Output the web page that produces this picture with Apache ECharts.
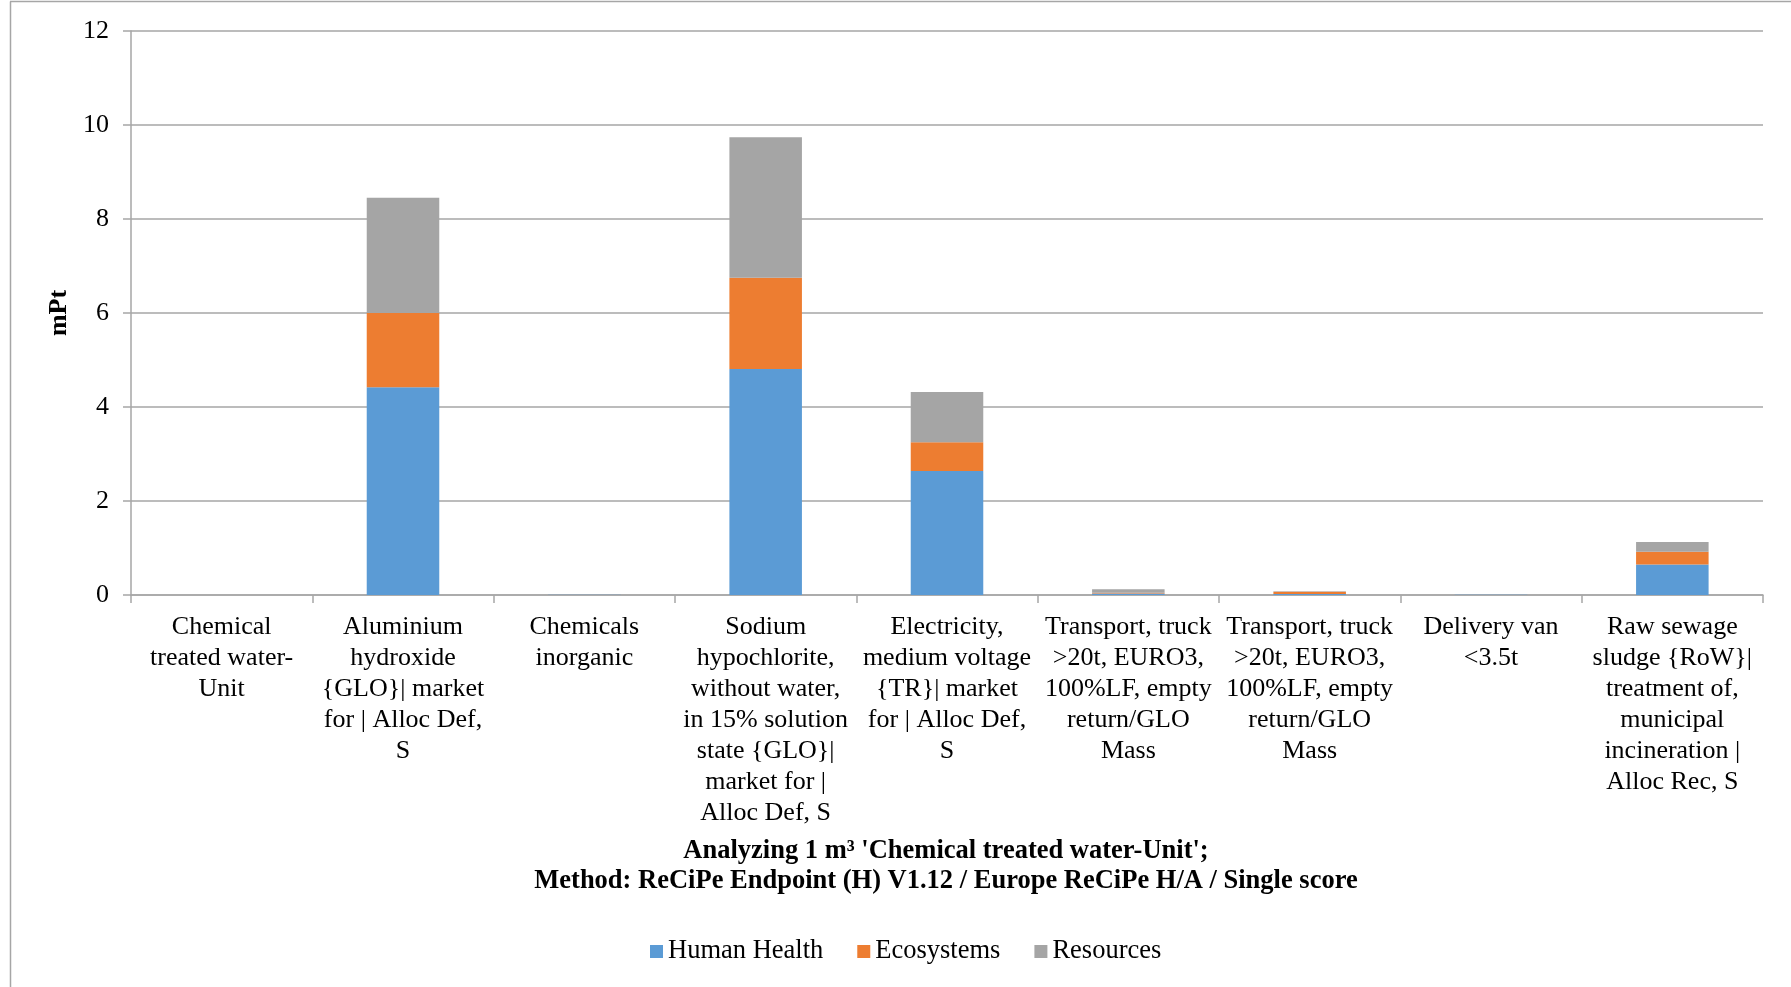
<!DOCTYPE html>
<html>
<head>
<meta charset="utf-8">
<title>ReCiPe single score</title>
<script src="https://cdn.jsdelivr.net/npm/echarts@6/dist/echarts.min.js"></script>
<style>
  html, body { margin: 0; padding: 0; background: #fff; }
  #chart { width: 1791px; height: 987px; }
</style>
</head>
<body>
<div id="chart"></div>
<script>
// Process contributions, mPt
const categories = [
  'Chemical\ntreated water-\nUnit',
  'Aluminium\nhydroxide\n{GLO}| market\nfor | Alloc Def,\nS',
  'Chemicals\ninorganic',
  'Sodium\nhypochlorite,\nwithout water,\nin 15% solution\nstate {GLO}|\nmarket for |\nAlloc Def, S',
  'Electricity,\nmedium voltage\n{TR}| market\nfor | Alloc Def,\nS',
  'Transport, truck\n>20t, EURO3,\n100%LF, empty\nreturn/GLO\nMass',
  'Transport, truck\n>20t, EURO3,\n100%LF, empty\nreturn/GLO\nMass',
  'Delivery van\n<3.5t',
  'Raw sewage\nsludge {RoW}|\ntreatment of,\nmunicipal\nincineration |\nAlloc Rec, S'
];
const humanHealth = [0, 4.42, 0.005, 4.81, 2.64, 0.03, 0.02, 0.003, 0.65];
const ecosystems  = [0, 1.58, 0.002, 1.94, 0.61, 0.02, 0.05, 0.001, 0.27];
const resources   = [0, 2.45, 0.003, 2.99, 1.07, 0.07, 0.01, 0.001, 0.21];
const seriesNames = ['Human Health', 'Ecosystems', 'Resources'];
const yTicks = { min: 0, max: 12, interval: 2 };

const font = 'Liberation Serif, Times New Roman, serif';
const colors = ['#5B9BD5', '#ED7D31', '#A5A5A5'];
const frameColor = '#A6A6A6';

const chart = echarts.init(document.getElementById('chart'), null, { renderer: 'canvas' });

const seriesData = [humanHealth, ecosystems, resources];

chart.setOption({
  animation: false,
  color: colors,
  textStyle: { fontFamily: font },
  grid: { left: 131, right: 28, top: 31, bottom: 392, containLabel: false },
  xAxis: {
    type: 'category',
    data: categories,
    axisLine: { show: true, lineStyle: { color: frameColor, width: 1.5 } },
    axisTick: { show: true, interval: 0, length: 8, lineStyle: { color: frameColor, width: 1.5 } },
    axisLabel: {
      interval: 0, color: '#000', fontFamily: font, fontSize: 26,
      lineHeight: 31, margin: 17
    }
  },
  yAxis: {
    type: 'value',
    min: yTicks.min, max: yTicks.max, interval: yTicks.interval,
    name: 'mPt',
    nameLocation: 'middle',
    nameGap: 58,
    nameTextStyle: { color: '#000', fontFamily: font, fontSize: 26, fontWeight: 'bold' },
    axisLine: { show: true, lineStyle: { color: frameColor, width: 1.5 } },
    axisTick: { show: true, length: 8, lineStyle: { color: frameColor, width: 1.5 } },
    axisLabel: { color: '#000', fontFamily: font, fontSize: 26, margin: 22 },
    splitLine: { show: true, lineStyle: { color: frameColor, width: 1.5 } }
  },
  legend: {
    data: seriesNames,
    left: 645,
    top: 933,
    itemWidth: 13,
    itemHeight: 13,
    itemGap: 34,
    icon: 'rect',
    textStyle: { color: '#000', fontFamily: font, fontSize: 26.5 }
  },
  graphic: [
    // chart-area frame: top and left edges
    {
      type: 'line',
      silent: true,
      shape: { x1: 10, y1: 1.5, x2: 1791, y2: 1.5 },
      style: { stroke: frameColor, lineWidth: 1.5 }
    },
    {
      type: 'line',
      silent: true,
      shape: { x1: 10.5, y1: 1.5, x2: 10.5, y2: 987 },
      style: { stroke: frameColor, lineWidth: 1.5 }
    },
    {
      type: 'text',
      x: 946,
      y: 836,
      style: {
        text: "Analyzing 1 m³ 'Chemical treated water-Unit';\nMethod: ReCiPe Endpoint (H) V1.12 / Europe ReCiPe H/A / Single score",
        align: 'center',
        verticalAlign: 'top',
        font: 'bold 26.5px ' + font,
        lineHeight: 30,
        fill: '#000'
      }
    }
  ],
  series: seriesNames.map((name, i) => ({
    name,
    type: 'bar',
    stack: 'total',
    barWidth: '40%',
    data: seriesData[i],
    itemStyle: { color: colors[i] }
  }))
});
</script>
</body>
</html>
